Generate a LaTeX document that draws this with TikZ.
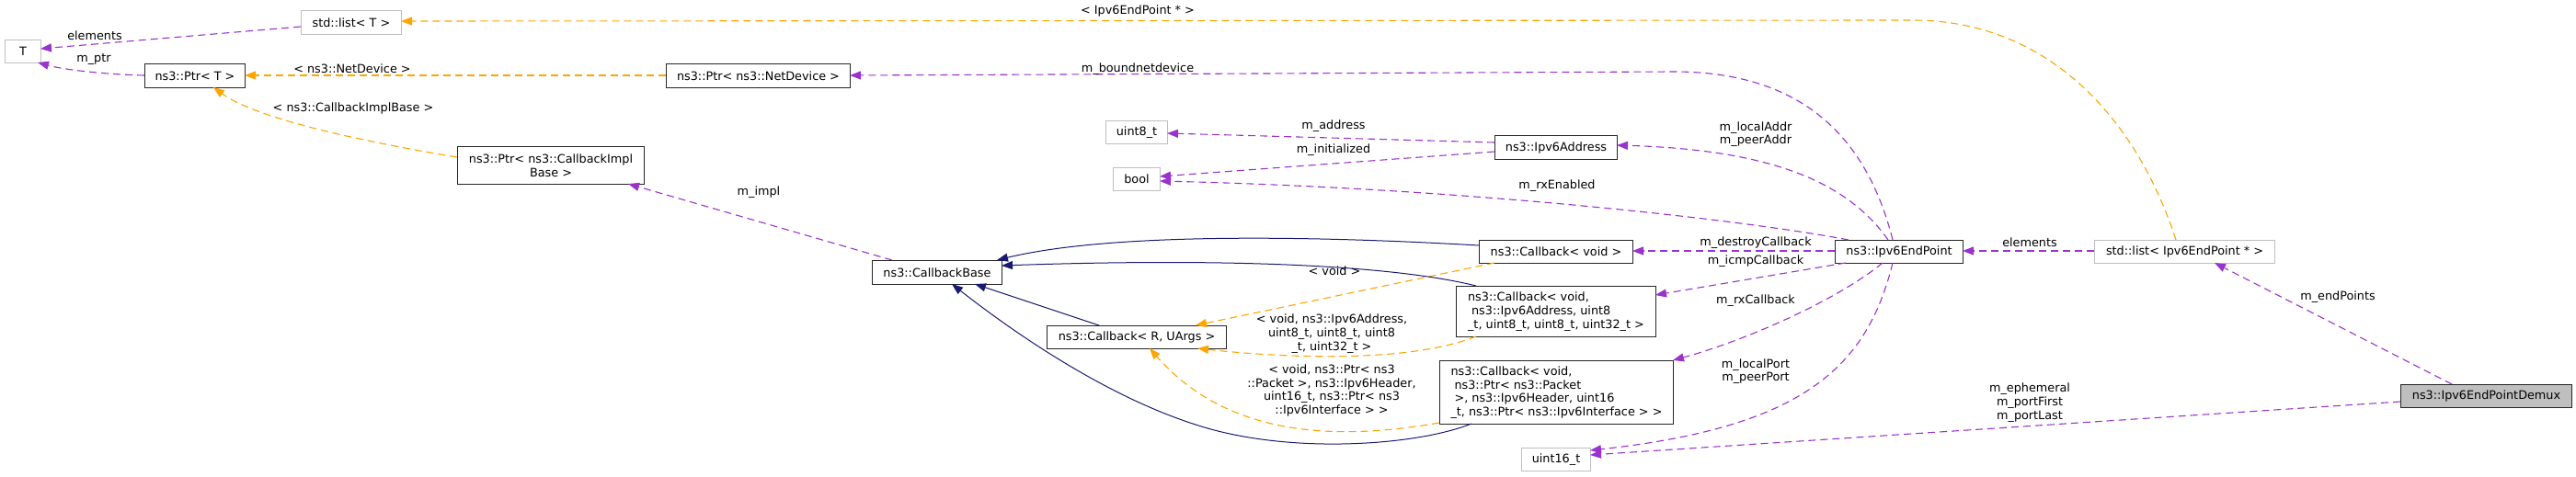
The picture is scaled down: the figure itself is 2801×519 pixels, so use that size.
\documentclass[tikz,border=0pt]{standalone}
\usepackage{fontspec}
\setmainfont{DejaVu Sans}
\usetikzlibrary{arrows.meta,calc}
\definecolor{memc}{HTML}{9A32CD}
\definecolor{tmplc}{HTML}{FFA500}
\definecolor{inhc}{HTML}{191970}
\definecolor{extc}{HTML}{BFBFBF}
\begin{document}
\begin{tikzpicture}[x=1pt,y=-1pt,
  font=\fontsize{12.8}{14.7}\selectfont,
  box/.style={draw=black!85, line width=1pt, fill=white, inner sep=0pt, anchor=north west},
  extbox/.style={box, draw=extc},
  curbox/.style={box, fill=extc},
  lab/.style={inner sep=0pt, align=center},
  tip/.style={-{Triangle[length=12pt,width=9pt]}},
  memedge/.style={draw=memc, line width=1.1pt, dash pattern=on 8pt off 5pt, tip, fill=none},
  tmpledge/.style={draw=tmplc, line width=1.1pt, dash pattern=on 8pt off 5pt, tip},
  inhedge/.style={draw=inhc, line width=1pt, tip}]
\useasboundingbox (0,0) rectangle (2801,519);

% nodes
\node[extbox, minimum width=39pt, minimum height=25pt] (T) at (5,43) {T};
\node[extbox, minimum width=109pt, minimum height=26pt] (stdlistT) at (327,11) {std::list< T >};
\node[box, minimum width=109pt, minimum height=26pt] (ptrT) at (157,69) {ns3::Ptr< T >};
\node[box, minimum width=203pt, minimum height=41pt, align=center] (ptrCIB) at (497,159) {ns3::Ptr< ns3::CallbackImpl\\Base >};
\node[box, minimum width=200pt, minimum height=26pt] (ptrND) at (724,69) {ns3::Ptr< ns3::NetDevice >};
\node[extbox, minimum width=67pt, minimum height=25pt] (uint8) at (1202,131) {uint8\_t};
\node[extbox, minimum width=51pt, minimum height=25pt] (bool) at (1210,182) {bool};
\node[box, minimum width=133pt, minimum height=26pt] (ipv6addr) at (1625,147) {ns3::Ipv6Address};
\node[box, minimum width=141pt, minimum height=26pt] (cbbase) at (948,283) {ns3::CallbackBase};
\node[box, minimum width=195pt, minimum height=25pt] (cbRU) at (1138,354) {ns3::Callback< R, UArgs >};
\node[box, minimum width=167pt, minimum height=25pt] (cbvoid) at (1608,261) {ns3::Callback< void >};
\node[box, minimum width=217pt, minimum height=55pt, align=left] (cbipv6) at (1583,311) {ns3::Callback< void,\\\hspace*{4pt}ns3::Ipv6Address, uint8\\\_t, uint8\_t, uint8\_t, uint32\_t >};
\node[box, minimum width=254pt, minimum height=69pt, align=left] (cbbig) at (1565,392) {ns3::Callback< void,\\\hspace*{4pt}ns3::Ptr< ns3::Packet\\\hspace*{4pt}>, ns3::Ipv6Header, uint16\\\_t, ns3::Ptr< ns3::Ipv6Interface > >};
\node[extbox, minimum width=75pt, minimum height=25pt] (uint16) at (1654,487) {uint16\_t};
\node[box, minimum width=139pt, minimum height=25pt] (ep) at (1995,261) {ns3::Ipv6EndPoint};
\node[extbox, minimum width=196pt, minimum height=25pt] (listEP) at (2277,261) {std::list< Ipv6EndPoint * >};
\node[curbox, minimum width=186pt, minimum height=25pt] (demux) at (2610,418) {ns3::Ipv6EndPointDemux};

% member edges
\draw[memedge] ($(stdlistT.north west)+(0,18)$) -- ($(T.north west)+(39,10)$);
\draw[memedge] ($(ptrT.north west)+(0,13)$) .. controls (115,81) and (70,76) .. ($(T.north west)+(36,25)$);
\draw[memedge] ($(ep.north west)+(63,0)$) .. controls (2030,150) and (1960,78) .. (1820,78) -- ($(ptrND.north west)+(200,13)$);
\draw[memedge] ($(ep.north west)+(58,0)$) .. controls (2010,200) and (1930,163) .. ($(ipv6addr.north west)+(133,11)$);
\draw[memedge] ($(ep.north west)+(15,0)$) .. controls (1900,240) and (1600,205) .. ($(bool.north west)+(51,15)$);
\draw[memedge] ($(ep.north west)+(0,12)$) -- ($(cbvoid.north west)+(167,12)$);
\draw[memedge] ($(ep.north west)+(12,25)$) -- ($(cbipv6.north west)+(217,10)$);
\draw[memedge] ($(ep.north west)+(52,25)$) .. controls (2000,325) and (1900,370) .. ($(cbbig.north west)+(254,0)$);
\draw[memedge] ($(ep.north west)+(63,25)$) .. controls (2030,400) and (1960,465) .. ($(uint16.north west)+(75,3)$);
\draw[memedge] ($(listEP.north west)+(0,12)$) -- ($(ep.north west)+(139,12)$);
\draw[memedge] ($(demux.north west)+(56,0)$) -- ($(listEP.north west)+(131,25)$);
\draw[memedge] ($(demux.north west)+(0,19)$) -- ($(uint16.north west)+(75,8)$);
\draw[memedge] ($(ipv6addr.north west)+(0,8)$) -- ($(uint8.north west)+(67,14)$);
\draw[memedge] ($(ipv6addr.north west)+(0,18)$) -- ($(bool.north west)+(51,10)$);
\draw[memedge] ($(cbbase.north west)+(22,0)$) -- ($(ptrCIB.north west)+(186,41)$);

% template edges
\draw[tmpledge] ($(ptrND.north west)+(0,13)$) -- ($(ptrT.north west)+(109,13)$);
\draw[tmpledge] ($(ptrCIB.north west)+(0,12)$) .. controls (400,155) and (280,130) .. ($(ptrT.north west)+(75,26)$);
\draw[tmpledge] ($(listEP.north west)+(89,0)$) .. controls (2320,120) and (2220,22) .. (2080,22) -- ($(stdlistT.north west)+(109,12)$);
\draw[tmpledge] ($(cbvoid.north west)+(17,25)$) -- ($(cbRU.north west)+(162,0)$);
\draw[tmpledge] ($(cbipv6.north west)+(22,55)$) .. controls (1540,392) and (1420,392) .. ($(cbRU.north west)+(164,25)$);
\draw[tmpledge] ($(cbbig.north west)+(0,68)$) .. controls (1440,482) and (1330,470) .. ($(cbRU.north west)+(112,25)$);

% inheritance edges
\draw[inhedge] ($(cbvoid.north west)+(0,6)$) .. controls (1400,255) and (1200,255) .. ($(cbbase.north west)+(136,0)$);
\draw[inhedge] ($(cbipv6.north west)+(22,0)$) .. controls (1520,290) and (1350,280) .. ($(cbbase.north west)+(141,6)$);
\draw[inhedge] ($(cbRU.north west)+(57,0)$) -- ($(cbbase.north west)+(112,26)$);
\draw[inhedge] ($(cbbig.north west)+(35,69)$) .. controls (1540,485) and (1400,495) .. (1300,462) .. controls (1200,430) and (1100,360) .. ($(cbbase.north west)+(87,26)$);

% labels
\node[lab] (l1) at (103,39) {elements};
\node[lab] (l2) at (102,65) {m\_ptr};
\node[lab] (l3) at (383,75) {< ns3::NetDevice >};
\node[lab] (l4) at (384,118) {< ns3::CallbackImplBase >};
\node[lab] (l5) at (1237,12) {< Ipv6EndPoint * >};
\node[lab] (l6) at (1237,75) {m\_boundnetdevice};
\node[lab] (l7) at (825,209) {m\_impl};
\node[lab] (l8) at (1450,137) {m\_address};
\node[lab] (l9) at (1450,163) {m\_initialized};
\node[lab] (l10) at (1693,202) {m\_rxEnabled};
\node[lab] (l11) at (1909,146) {m\_localAddr\\m\_peerAddr};
\node[lab] (l12) at (1909,264) {m\_destroyCallback};
\node[lab] (l13) at (1909,284) {m\_icmpCallback};
\node[lab] (l14) at (1909,327) {m\_rxCallback};
\node[lab] (l15) at (1909,404) {m\_localPort\\m\_peerPort};
\node[lab] (l16) at (2207,264) {elements};
\node[lab] (l17) at (2542,323) {m\_endPoints};
\node[lab] (l18) at (2207,438) {m\_ephemeral\\m\_portFirst\\m\_portLast};
\node[lab] (l19) at (1451,295) {< void >};
\node[lab] (l20) at (1448,363) {< void, ns3::Ipv6Address,\\uint8\_t, uint8\_t, uint8\\\_t, uint32\_t >};
\node[lab] (l21) at (1448,425) {< void, ns3::Ptr< ns3\\::Packet >, ns3::Ipv6Header,\\uint16\_t, ns3::Ptr< ns3\\::Ipv6Interface > >};
\end{tikzpicture}
\end{document}
